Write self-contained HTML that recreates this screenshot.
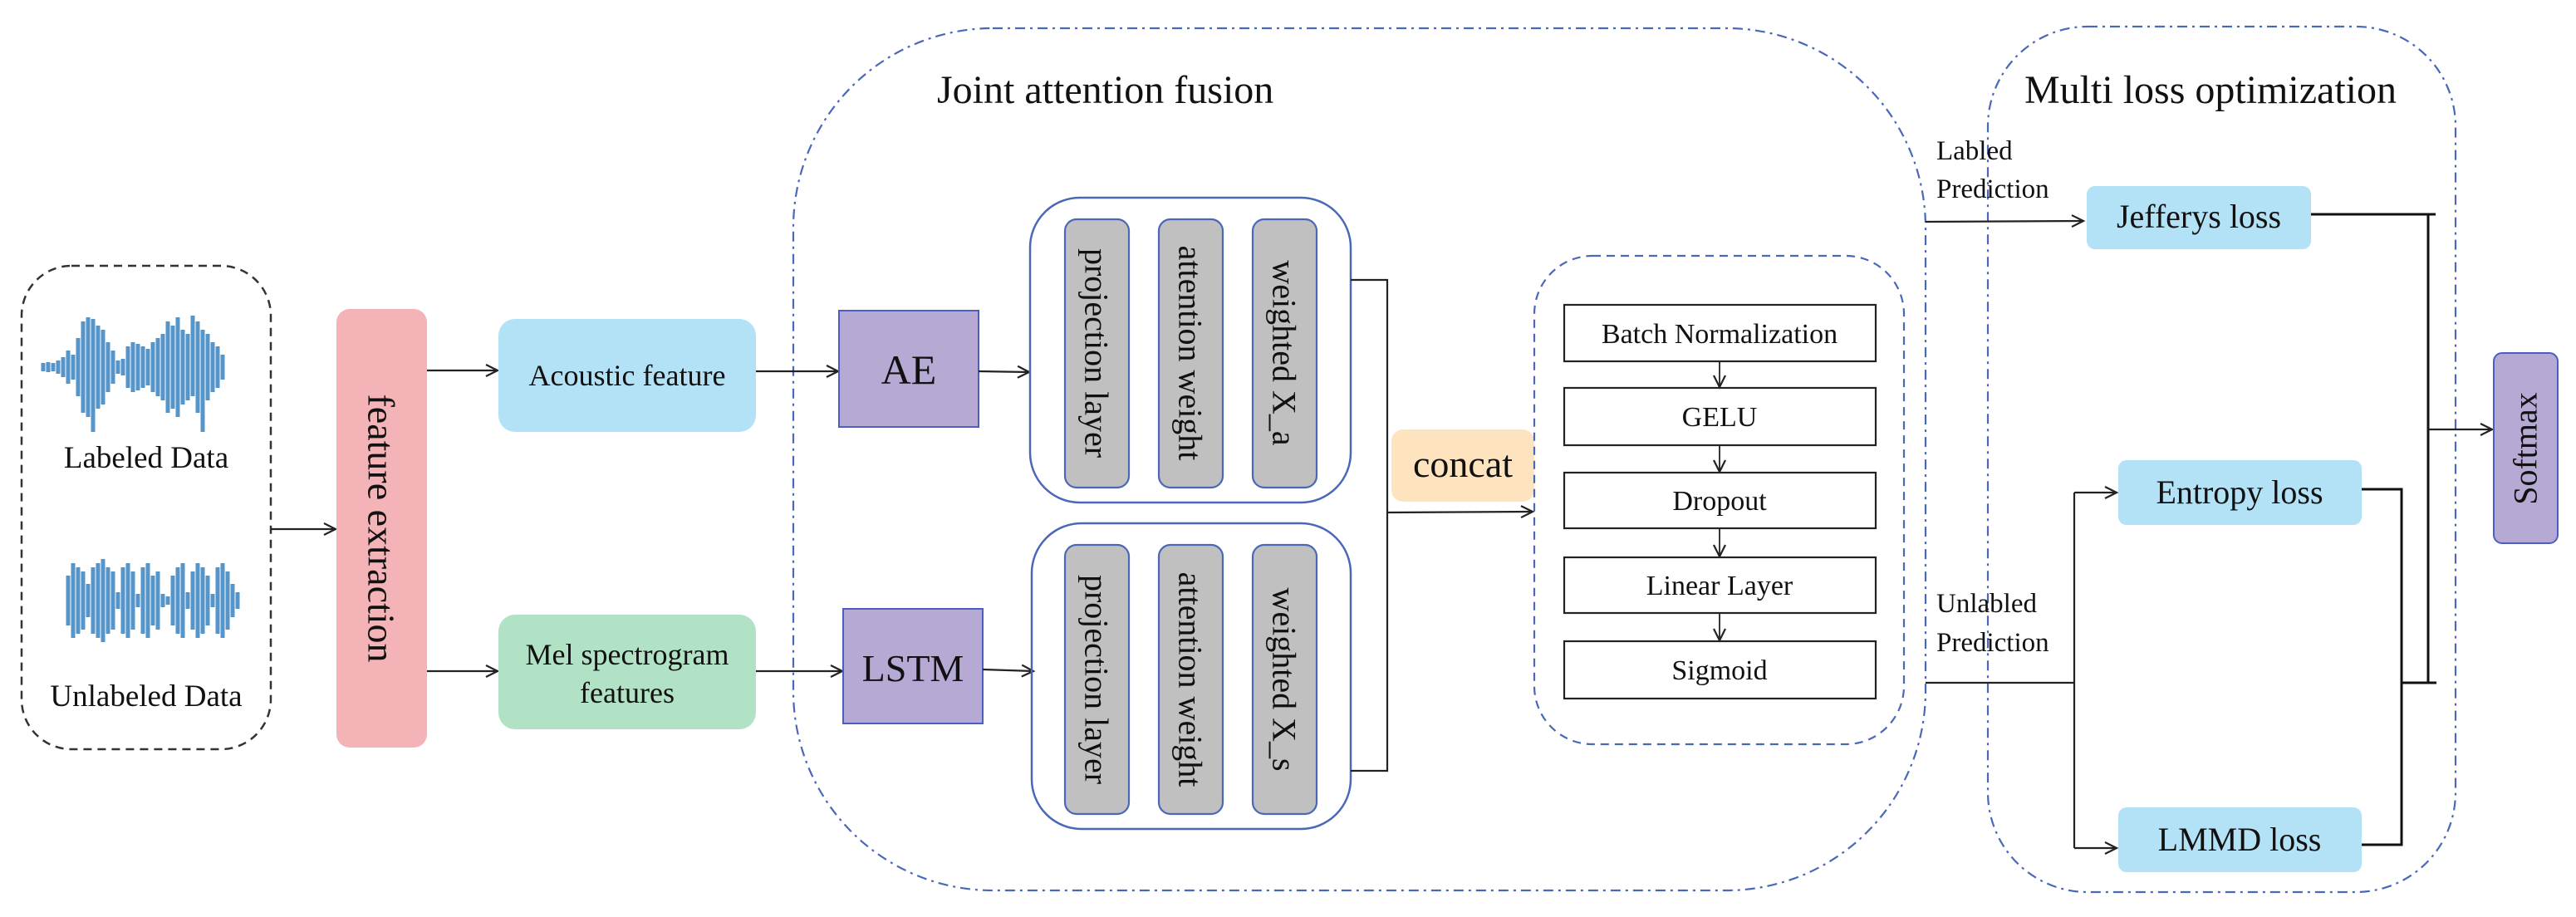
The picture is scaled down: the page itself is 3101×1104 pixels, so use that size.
<!DOCTYPE html>
<html><head><meta charset="utf-8"><style>
html,body{margin:0;padding:0;background:#fff}
svg{display:block}
svg text{font-family:"Liberation Serif","Times New Roman","DejaVu Serif",serif !important;fill:#111}
</style></head><body>
<svg width="3101" height="1104" viewBox="0 0 3101 1104" xmlns="http://www.w3.org/2000/svg" font-family="Liberation Serif, serif">
<defs>
<marker id="ar" markerWidth="20" markerHeight="20" refX="16" refY="8" orient="auto" markerUnits="userSpaceOnUse">
<path d="M2,1 L16,8 L2,15" fill="none" stroke="#222" stroke-width="2.2"/>
</marker>
</defs>

<!-- data box -->
<rect x="26" y="320" width="300" height="582" rx="60" fill="none" stroke="#333" stroke-width="2.5" stroke-dasharray="10 7"/>
<g stroke="#2b7bbd" stroke-width="5" opacity="0.8">
<path d="M52 437V447 M58 436V448 M64 437V447 M70 434V450 M76 430V454 M82 422V462 M88 427V457 M94 407V477 M100 387V497 M106 382V502 M112 384V520 M118 392V492 M124 397V487 M130 412V472 M136 422V462 M142 434V450 M148 432V452 M154 417V467 M160 412V472 M166 414V470 M172 417V467 M178 420V464 M184 412V472 M190 407V477 M196 402V482 M202 387V497 M208 392V492 M214 382V502 M220 397V487 M226 402V482 M232 380V477 M238 387V497 M244 397V520 M250 402V482 M256 412V472 M262 417V467 M268 427V457"/>
<path d="M82 693V753 M88 678V768 M94 683V763 M100 688V758 M106 703V743 M112 683V763 M118 678V768 M124 673V773 M130 683V763 M136 688V758 M142 713V733 M148 683V763 M154 678V768 M160 688V758 M166 715V731 M172 683V763 M178 678V768 M184 693V753 M190 688V758 M196 715V731 M202 718V728 M208 693V753 M214 683V763 M220 678V768 M226 713V733 M232 688V758 M238 678V768 M244 683V763 M250 693V753 M256 715V731 M262 683V763 M268 678V768 M274 688V758 M280 703V743 M286 713V733"/>
</g>
<text x="176" y="563" font-size="37" text-anchor="middle">Labeled Data</text>
<text x="176" y="850" font-size="37" text-anchor="middle">Unlabeled Data</text>
<line x1="326" y1="637" x2="404" y2="637" stroke="#222" stroke-width="2.2" marker-end="url(#ar)"/>

<!-- feature extraction -->
<rect x="405" y="372" width="109" height="528" rx="16" fill="#f4b3b6"/>
<text transform="translate(459,636) rotate(90)" font-size="46" text-anchor="middle" dominant-baseline="central">feature extraction</text>
<line x1="514" y1="446" x2="599" y2="446" stroke="#222" stroke-width="2.2" marker-end="url(#ar)"/>
<line x1="514" y1="808" x2="599" y2="808" stroke="#222" stroke-width="2.2" marker-end="url(#ar)"/>

<rect x="600" y="384" width="310" height="136" rx="20" fill="#b3e1f5"/>
<text x="755" y="464" font-size="36" text-anchor="middle">Acoustic feature</text>
<rect x="600" y="740" width="310" height="138" rx="20" fill="#b2e2c6"/>
<text x="755" y="800" font-size="36" text-anchor="middle">Mel spectrogram</text>
<text x="755" y="846" font-size="36" text-anchor="middle">features</text>

<!-- joint attention fusion -->
<path d="M1195,34 H2078 A240,240 0 0 1 2318,274 V832 A240,240 0 0 1 2078,1072 H1195 A240,240 0 0 1 955,832 V274 A240,240 0 0 1 1195,34 Z" fill="none" stroke="#4a68b8" stroke-width="2.2" stroke-dasharray="12 6 3 6"/>
<text x="1128" y="124" font-size="48">Joint attention fusion</text>

<line x1="910" y1="447" x2="1009" y2="447" stroke="#222" stroke-width="2.2" marker-end="url(#ar)"/>
<line x1="910" y1="808" x2="1014" y2="808" stroke="#222" stroke-width="2.2" marker-end="url(#ar)"/>
<rect x="1010" y="374" width="168" height="140" fill="#b6aad5" stroke="#4a5fbf" stroke-width="2"/>
<text x="1094" y="462" font-size="50" text-anchor="middle">AE</text>
<rect x="1015" y="733" width="168" height="138" fill="#b6aad5" stroke="#4a5fbf" stroke-width="2"/>
<text x="1099" y="820" font-size="46" text-anchor="middle">LSTM</text>
<line x1="1178" y1="447" x2="1239" y2="448" stroke="#222" stroke-width="2.2" marker-end="url(#ar)"/>
<line x1="1183" y1="806" x2="1244" y2="808" stroke="#222" stroke-width="2.2" marker-end="url(#ar)"/>

<!-- attention groups -->
<g fill="none" stroke="#4a68b8" stroke-width="2.5">
<rect x="1240" y="238" width="386" height="367" rx="60"/>
<rect x="1242" y="630" width="384" height="368" rx="60"/>
</g>
<g fill="#c0c0c0" stroke="#4a68b8" stroke-width="2.2">
<rect x="1282" y="264" width="77" height="323" rx="14"/>
<rect x="1395" y="264" width="77" height="323" rx="14"/>
<rect x="1508" y="264" width="77" height="323" rx="14"/>
<rect x="1282" y="656" width="77" height="324" rx="14"/>
<rect x="1395" y="656" width="77" height="324" rx="14"/>
<rect x="1508" y="656" width="77" height="324" rx="14"/>
</g>
<g font-size="40" text-anchor="middle" dominant-baseline="central">
<text transform="translate(1320,425) rotate(90)">projection layer</text>
<text transform="translate(1433,425) rotate(90)">attention weight</text>
<text transform="translate(1546,425) rotate(90)">weighted X_a</text>
<text transform="translate(1320,818) rotate(90)">projection layer</text>
<text transform="translate(1433,818) rotate(90)">attention weight</text>
<text transform="translate(1546,818) rotate(90)">weighted X_s</text>
</g>
<path d="M1626 337 H1670 V928 H1626" fill="none" stroke="#222" stroke-width="2.2"/>
<rect x="1675" y="517" width="172" height="87" rx="14" fill="#fde4bf"/>
<text x="1761" y="574" font-size="46" text-anchor="middle">concat</text>
<line x1="1670" y1="617" x2="1845" y2="616" stroke="#222" stroke-width="2.2" marker-end="url(#ar)"/>

<!-- inner dashed box -->
<rect x="1847" y="308" width="445" height="588" rx="70" fill="none" stroke="#4a68b8" stroke-width="2.2" stroke-dasharray="10 7"/>
<g fill="#fff" stroke="#222" stroke-width="2.2">
<rect x="1883" y="367" width="375" height="68"/>
<rect x="1883" y="467" width="375" height="69"/>
<rect x="1883" y="569" width="375" height="67"/>
<rect x="1883" y="671" width="375" height="67"/>
<rect x="1883" y="772" width="375" height="69"/>
</g>
<g stroke="#222" stroke-width="1.8" marker-end="url(#ar)">
<line x1="2070" y1="435" x2="2070" y2="466"/>
<line x1="2070" y1="536" x2="2070" y2="568"/>
<line x1="2070" y1="636" x2="2070" y2="670"/>
<line x1="2070" y1="738" x2="2070" y2="771"/>
</g>
<g font-size="34" text-anchor="middle">
<text x="2070" y="413">Batch Normalization</text>
<text x="2070" y="513">GELU</text>
<text x="2070" y="614">Dropout</text>
<text x="2070" y="716">Linear Layer</text>
<text x="2070" y="818">Sigmoid</text>
</g>

<!-- multi loss -->
<path d="M2513,32 H2836 A120,120 0 0 1 2956,152 V954 A120,120 0 0 1 2836,1074 H2513 A120,120 0 0 1 2393,954 V152 A120,120 0 0 1 2513,32 Z" fill="none" stroke="#4a68b8" stroke-width="2.2" stroke-dasharray="12 6 3 6"/>
<text x="2437" y="124" font-size="48">Multi loss optimization</text>
<g font-size="33">
<text x="2331" y="192">Labled</text>
<text x="2331" y="238">Prediction</text>
<text x="2331" y="737">Unlabled</text>
<text x="2331" y="784">Prediction</text>
</g>
<line x1="2318" y1="267" x2="2508" y2="266" stroke="#222" stroke-width="2.2" marker-end="url(#ar)"/>
<rect x="2512" y="224" width="270" height="76" rx="10" fill="#b3e1f5"/>
<text x="2647" y="274" font-size="40" text-anchor="middle">Jefferys loss</text>
<rect x="2550" y="554" width="293" height="78" rx="10" fill="#b3e1f5"/>
<text x="2696" y="606" font-size="40" text-anchor="middle">Entropy loss</text>
<rect x="2550" y="972" width="293" height="78" rx="10" fill="#b3e1f5"/>
<text x="2696" y="1024" font-size="40" text-anchor="middle">LMMD loss</text>

<path d="M2318 822 H2497" stroke="#222" stroke-width="2.2" fill="none"/>
<path d="M2497 593 V1021" stroke="#222" stroke-width="2.2" fill="none"/>
<line x1="2497" y1="593" x2="2548" y2="593" stroke="#222" stroke-width="2.2" marker-end="url(#ar)"/>
<line x1="2497" y1="1021" x2="2548" y2="1021" stroke="#222" stroke-width="2.2" marker-end="url(#ar)"/>
<path d="M2782 258 H2932 M2923 258 V822" stroke="#111" stroke-width="3" fill="none"/>
<path d="M2843 589 H2891 V1017 H2843 M2891 822 H2933" stroke="#111" stroke-width="3" fill="none"/>
<line x1="2923" y1="517" x2="3000" y2="517" stroke="#222" stroke-width="2.2" marker-end="url(#ar)"/>
<rect x="3002" y="425" width="77" height="229" rx="10" fill="#b6aad5" stroke="#4a5fbf" stroke-width="2"/>
<text transform="translate(3040,540) rotate(-90)" font-size="40" text-anchor="middle" dominant-baseline="central">Softmax</text>
</svg>
</body></html>
